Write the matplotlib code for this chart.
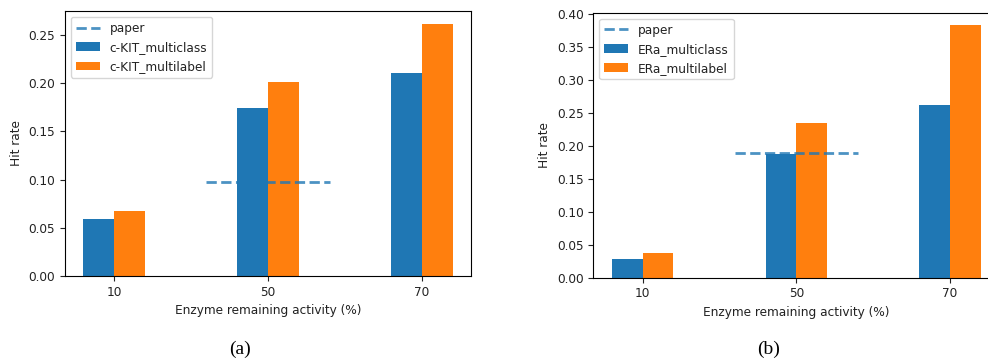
import matplotlib.pyplot as plt
import numpy as np

# data
activity = ["10", "50", "70"]
kit_multiclass = [0.0588, 0.1746, 0.2102]
kit_multilabel = [0.0674, 0.2012, 0.2617]
kit_paper = 0.0978
era_multiclass = [0.0279, 0.1876, 0.2624]
era_multilabel = [0.0370, 0.2347, 0.3829]
era_paper = 0.1887

plt.rcParams['font.size'] = 8.7
plt.rcParams['text.color'] = '#222222'
plt.rcParams['axes.labelcolor'] = '#222222'
plt.rcParams['xtick.color'] = '#222222'
plt.rcParams['ytick.color'] = '#222222'

fig = plt.figure(figsize=(9.88, 3.62), dpi=100)
ax1 = fig.add_axes([0.0658, 0.2376, 0.4109, 0.732])
ax2 = fig.add_axes([0.6005, 0.2329, 0.4109, 0.732])


def draw_panel(ax, multiclass, multilabel, paper, prefix):
    x = np.arange(len(activity))
    w = 0.2
    ax.plot([0.6, 1.4], [paper, paper], linestyle='--', color='C0', alpha=0.8,
            linewidth=2, label='paper', zorder=3)
    ax.bar(x - w / 2, multiclass, w, color='C0', label=prefix + '_multiclass')
    ax.bar(x + w / 2, multilabel, w, color='C1', label=prefix + '_multilabel')
    ax.set_xticks(x)
    ax.set_xticklabels(activity)
    ax.set_xlim(-0.32, 2.32)
    ax.set_ylim(0, max(multilabel) * 1.05)
    ax.set_xlabel('Enzyme remaining activity (%)')
    ax.set_ylabel('Hit rate')
    ax.legend(loc='upper left')


draw_panel(ax1, kit_multiclass, kit_multilabel, kit_paper, 'c-KIT')
draw_panel(ax2, era_multiclass, era_multilabel, era_paper, 'ERa')

fig.text(0.243, 0.035, '(a)', family='Liberation Serif', fontsize=14,
         ha='center', va='center', color='black')
fig.text(0.778, 0.035, '(b)', family='Liberation Serif', fontsize=14,
         ha='center', va='center', color='black')

fig.savefig('out.png', dpi=100)
